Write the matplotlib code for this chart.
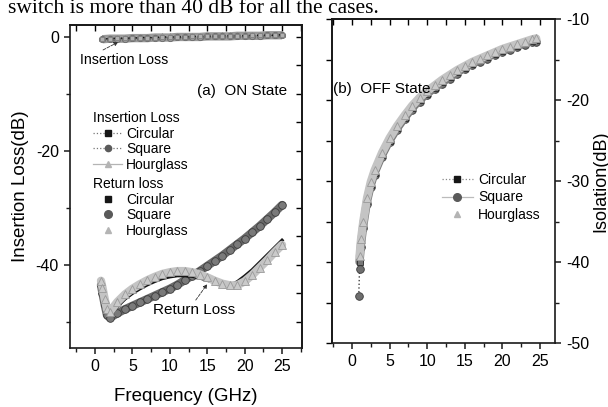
import matplotlib
matplotlib.use("Agg")
import matplotlib.pyplot as plt
from matplotlib.ticker import MultipleLocator

plt.rcParams['font.family'] = ['Liberation Sans', 'DejaVu Sans']
plt.rcParams['axes.unicode_minus'] = False

# ---------------- data ----------------
il_freq = [1, 2, 3, 4, 5, 6, 7, 8, 9, 10, 11, 12, 13, 14, 15, 16, 17, 18, 19, 20, 21, 22, 23, 24, 25]
il_circular = [-0.3, -0.3, -0.2, -0.2, -0.2, -0.1, -0.1, -0.1, 0.0, 0.0, 0.0, 0.0, 0.1, 0.1, 0.1, 0.1, 0.2, 0.2, 0.2, 0.2, 0.3, 0.3, 0.3, 0.3, 0.4]
il_square = [-0.4, -0.3, -0.3, -0.3, -0.2, -0.2, -0.2, -0.1, -0.1, -0.1, 0.0, 0.0, 0.0, 0.0, 0.1, 0.1, 0.1, 0.1, 0.2, 0.2, 0.2, 0.2, 0.3, 0.3, 0.3]
il_hourglass = [-0.2, -0.2, -0.1, -0.1, -0.1, 0.0, 0.0, 0.0, 0.1, 0.1, 0.1, 0.1, 0.2, 0.2, 0.2, 0.2, 0.3, 0.3, 0.3, 0.3, 0.4, 0.4, 0.4, 0.4, 0.5]

rl_freq = [0.8, 1.0, 1.3, 1.6, 2.0, 3, 4, 5, 6, 7, 8, 9, 10, 11, 12, 13, 14, 15, 16, 17, 18, 19, 20, 21, 22, 23, 24, 25]
rl_circular = [-43.2, -44.5, -46.5, -48.3, -48.8, -47.3, -46.0, -45.0, -44.2, -43.5, -42.9, -42.4, -42.1, -41.9,
               -41.9, -42.0, -42.3, -42.7, -43.1, -43.5, -43.6, -43.0, -42.0, -40.9, -39.6, -38.3, -37.0, -35.7]
rl_square = [-43.5, -45.0, -47.0, -48.8, -49.3, -48.5, -47.8, -47.2, -46.6, -46.0, -45.4, -44.8, -44.2, -43.5,
             -42.7, -41.9, -41.1, -40.2, -39.3, -38.4, -37.4, -36.4, -35.4, -34.3, -33.2, -32.0, -30.8, -29.5]
rl_hourglass = [-42.8, -44.0, -46.0, -47.8, -48.2, -46.5, -45.2, -44.2, -43.4, -42.7, -42.1, -41.6, -41.3, -41.1,
                -41.1, -41.3, -41.7, -42.2, -42.8, -43.3, -43.6, -43.6, -42.9, -41.8, -40.5, -39.2, -37.8, -36.5]

iso_freq = [1.0, 1.2, 1.5, 2.0, 2.5, 3, 4, 5, 6, 7, 8, 9, 10, 11, 12, 13, 14, 15, 16, 17, 18, 19, 20, 21, 22, 23, 24, 24.5]
iso_circular = [-40.0, -37.8, -35.5, -32.5, -30.5, -29.0, -26.8, -25.0, -23.5, -22.2, -21.0, -20.0, -19.2, -18.5,
                -17.8, -17.2, -16.6, -16.0, -15.5, -15.1, -14.7, -14.3, -13.9, -13.6, -13.3, -13.0, -12.7, -12.6]
iso_square_freq = [0.9, 1.0, 1.2, 1.5, 2.0, 2.5, 3, 4, 5, 6, 7, 8, 9, 10, 11, 12, 13, 14, 15, 16, 17, 18, 19, 20, 21, 22, 23, 24, 24.5]
iso_square = [-44.2, -40.9, -38.2, -35.8, -32.8, -30.8, -29.2, -27.0, -25.2, -23.7, -22.4, -21.2, -20.2, -19.4, -18.7,
              -18.0, -17.4, -16.8, -16.2, -15.7, -15.3, -14.9, -14.5, -14.1, -13.8, -13.5, -13.2, -12.9, -12.8]
iso_hourglass = [-39.3, -37.2, -35.0, -32.1, -30.1, -28.7, -26.5, -24.7, -23.2, -21.9, -20.7, -19.7, -18.9, -18.2,
                 -17.5, -16.9, -16.3, -15.8, -15.3, -14.9, -14.5, -14.1, -13.7, -13.4, -13.1, -12.8, -12.5, -12.4]

C_CIRC = '#161616'
C_SQ = '#5a5a5a'
C_HG = '#b4b4b4'

fig = plt.figure(figsize=(6.08, 4.07), dpi=100)
W, H = 608.0, 407.0

def px_axes(x0, y0, x1, y1):
    return fig.add_axes([x0 / W, 1 - y1 / H, (x1 - x0) / W, (y1 - y0) / H])

ax1 = px_axes(70, 25, 302, 348)
ax2 = px_axes(332, 19, 555, 343)

TICK_FS = 11.5

def style(ax):
    for s in ax.spines.values():
        s.set_linewidth(1.2)
        s.set_color('#1a1a1a')
    ax.tick_params(which='major', length=4.5, width=1.1, labelsize=TICK_FS, direction='out', color='#1a1a1a')
    ax.tick_params(which='minor', length=2.8, width=1.0, direction='out', color='#1a1a1a')

# ---------------- left: ON state ----------------
# insertion loss (thick hatched band)
ax1.plot(il_freq, il_square, color='#9a9a9a', lw=6, solid_capstyle='butt', zorder=2)
ax1.plot(il_freq, il_hourglass, color=C_HG, lw=1, ls='-', marker='^', ms=5, mfc='#c4c4c4', mec='#8c8c8c', mew=0.6, zorder=3)
ax1.plot(il_freq, il_square, color=C_SQ, lw=1, ls=':', marker='o', ms=4.5, mfc='#9a9a9a', mec='#6a6a6a', mew=0.6, zorder=3)
ax1.plot(il_freq, il_circular, color=C_CIRC, lw=1, ls=':', marker='s', ms=3.5, mfc='#b0b0b0', mec='#808080', mew=0.6, zorder=3)
l_ic, = ax1.plot([], [], color='#777777', lw=0.9, ls=':', marker='s', ms=4.5, mfc=C_CIRC, mec=C_CIRC)
l_is, = ax1.plot([], [], color='#777777', lw=0.9, ls=':', marker='o', ms=4.5, mfc=C_SQ, mec=C_SQ)
l_ih, = ax1.plot([], [], color=C_HG, lw=0.9, ls='-', marker='^', ms=4.5, mfc=C_HG, mec=C_HG)

# return loss (dense marker bands)
ax1.plot(rl_freq, rl_square, color='#6a6a6a', lw=6, solid_capstyle='round', zorder=2)
ax1.plot(rl_freq, rl_square, ls='none', marker='o', ms=5.5, mfc='#7a7a7a', mec='#3c3c3c', mew=0.6, zorder=2)
ax1.plot(rl_freq, rl_circular, color=C_CIRC, lw=2.4, zorder=2.5)
ax1.plot(rl_freq, rl_hourglass, color='#c4c4c4', lw=6, solid_capstyle='round', zorder=3)
ax1.plot(rl_freq, rl_hourglass, ls='none', marker='^', ms=5.5, mfc='#cacaca', mec='#9a9a9a', mew=0.6, zorder=3)
l_rc, = ax1.plot([], [], ls='none', marker='s', ms=5, mfc=C_CIRC, mec=C_CIRC)
l_rs, = ax1.plot([], [], ls='none', marker='o', ms=5.5, mfc=C_SQ, mec=C_SQ)
l_rh, = ax1.plot([], [], ls='none', marker='^', ms=5, mfc=C_HG, mec=C_HG)

ax1.set_xlim(-3.34, 27.67)
ax1.set_ylim(-54.6, 2.1)
ax1.xaxis.set_major_locator(MultipleLocator(5))
ax1.xaxis.set_minor_locator(MultipleLocator(2.5))
ax1.yaxis.set_major_locator(MultipleLocator(20))
ax1.yaxis.set_minor_locator(MultipleLocator(10))
style(ax1)
sx1 = ax1.secondary_xaxis('top')
sx1.xaxis.set_major_locator(MultipleLocator(5))
sx1.xaxis.set_minor_locator(MultipleLocator(2.5))
sx1.tick_params(which='both', direction='in', labeltop=False, length=4, width=1.0)
sy1 = ax1.secondary_yaxis('right')
sy1.yaxis.set_major_locator(MultipleLocator(10))
sy1.yaxis.set_minor_locator(MultipleLocator(5))
sy1.tick_params(which='both', direction='in', labelright=False, length=4, width=1.0)
for s in list(sx1.spines.values()) + list(sy1.spines.values()):
    s.set_linewidth(1.2)

ax1.set_ylabel('Insertion Loss(dB)', fontsize=13.5, labelpad=5)
ax1.set_xlabel('Frequency (GHz)', fontsize=13.5, labelpad=10)

ax1.annotate('Insertion Loss', xy=(3.1, -0.9), xytext=(3.9, -4.0), fontsize=10.2, ha='center', va='center',
             arrowprops=dict(arrowstyle='-|>', lw=0.6, ls='--', color='#333333', mutation_scale=6,
                             shrinkA=0, shrinkB=0, relpos=(0.2, 1.0)))
ax1.text(19.6, -9.5, '(a)  ON State', fontsize=11, ha='center', va='center')
ax1.annotate('Return Loss', xy=(15.0, -43.4), xytext=(13.2, -47.9), fontsize=11, ha='center', va='center',
             arrowprops=dict(arrowstyle='-|>', lw=0.6, ls='--', color='#333333', mutation_scale=6,
                             shrinkA=0, shrinkB=0, relpos=(0.5, 1.0)))

leg_kw = dict(frameon=False, fontsize=10, title_fontsize=10, handlelength=2.1, handletextpad=0.3,
              labelspacing=0.12, borderpad=0, borderaxespad=0, alignment='left',
              bbox_transform=fig.transFigure, loc='upper left')
lg1 = ax1.legend([l_ic, l_is, l_ih], ['Circular', 'Square', 'Hourglass'], title='Insertion Loss',
                 bbox_to_anchor=(93 / W, 1 - 111 / H), **leg_kw)
ax1.add_artist(lg1)
lg2 = ax1.legend([l_rc, l_rs, l_rh], ['Circular', 'Square', 'Hourglass'], title='Return loss',
                 bbox_to_anchor=(93 / W, 1 - 177 / H), **leg_kw)

# ---------------- right: OFF state ----------------
ax2.plot(iso_square_freq, iso_square, color='#444444', lw=1, ls=':', marker='o', ms=5.5, mfc='#6e6e6e', mec='#3a3a3a', mew=0.6, zorder=2)
ax2.plot(iso_freq, iso_circular, color='#7a7a7a', lw=6, solid_capstyle='round', zorder=2)
ax2.plot(iso_freq, iso_circular, color='#444444', lw=1, ls=':', marker='s', ms=5, mfc='#777777', mec='#2a2a2a', mew=0.6, zorder=2)
ax2.plot(iso_freq, iso_hourglass, color='#c4c4c4', lw=6, solid_capstyle='round', zorder=3)
ax2.plot(iso_freq, iso_hourglass, ls='none', marker='^', ms=5.5, mfc='#cacaca', mec='#999999', mew=0.6, zorder=3)
r_c, = ax2.plot([], [], color='#888888', lw=0.9, ls=':', marker='s', ms=5, mfc=C_CIRC, mec=C_CIRC)
r_s, = ax2.plot([], [], color='#bbbbbb', lw=0.9, ls='-', marker='o', ms=5.5, mfc=C_SQ, mec=C_SQ)
r_h, = ax2.plot([], [], ls='none', marker='^', ms=5, mfc=C_HG, mec=C_HG)

ax2.set_xlim(-2.66, 27.0)
ax2.set_ylim(-50, -10)
ax2.xaxis.set_major_locator(MultipleLocator(5))
ax2.xaxis.set_minor_locator(MultipleLocator(2.5))
ax2.yaxis.set_major_locator(MultipleLocator(10))
ax2.yaxis.set_minor_locator(MultipleLocator(5))
ax2.yaxis.tick_right()
ax2.yaxis.set_label_position('right')
style(ax2)
sx2 = ax2.secondary_xaxis('top')
sx2.xaxis.set_major_locator(MultipleLocator(5))
sx2.xaxis.set_minor_locator(MultipleLocator(2.5))
sx2.tick_params(which='both', direction='in', labeltop=False, length=4, width=1.0)
sy2 = ax2.secondary_yaxis('left')
sy2.yaxis.set_major_locator(MultipleLocator(10))
sy2.yaxis.set_minor_locator(MultipleLocator(5))
sy2.tick_params(which='both', direction='out', labelleft=False, length=4, width=1.0)
for s in list(sx2.spines.values()) + list(sy2.spines.values()):
    s.set_linewidth(1.2)

ax2.set_ylabel('Isolation(dB)', fontsize=13, labelpad=2)
ax2.text(3.9, -18.6, '(b)  OFF State', fontsize=11, ha='center', va='center')
ax2.legend([r_c, r_s, r_h], ['Circular', 'Square', 'Hourglass'], frameon=False, fontsize=10,
           handlelength=2.2, handletextpad=0.4, labelspacing=0.25, borderpad=0, borderaxespad=0,
           loc='upper left', bbox_transform=fig.transFigure, bbox_to_anchor=(442 / W, 1 - 173 / H))

fig.text(8 / W, 1 - 13 / H, 'switch is more than 40 dB for all the cases.', fontsize=15.5,
         family=['Liberation Serif', 'DejaVu Serif'], ha='left', va='baseline')

fig.savefig('out.png', dpi=100)
